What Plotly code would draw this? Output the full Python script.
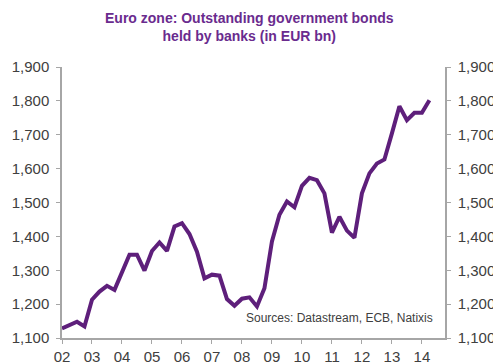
import plotly.graph_objects as go

quarters = [2002 + 0.25 * i for i in range(50)]
bonds = [1128, 1138, 1148, 1134, 1213, 1237, 1254, 1242, 1297, 1346,
         1346, 1299, 1357, 1382, 1357, 1429, 1439, 1407, 1355, 1276,
         1287, 1284, 1215, 1195, 1216, 1220, 1193, 1247, 1385, 1464,
         1503, 1486, 1549, 1573, 1566, 1527, 1411, 1458, 1417, 1396,
         1527, 1586, 1615, 1627, 1704, 1784, 1743, 1765, 1765, 1802]
year_ticks = list(range(2002, 2015))
year_labels = ["%02d" % (y - 2000) for y in year_ticks]
y_ticks = list(range(1100, 2000, 100))

purple = "#5E1F7B"
axis_col = "#A6A6A6"
text_col = "#404040"
font_fam = "Liberation Sans, Arial"

fig = go.Figure()
fig.add_trace(go.Scatter(x=quarters, y=bonds, mode="lines",
                         line=dict(color=purple, width=4), showlegend=False))
fig.add_trace(go.Scatter(x=quarters, y=bonds, mode="lines", yaxis="y2",
                         line=dict(color="rgba(0,0,0,0)", width=0),
                         showlegend=False, hoverinfo="skip"))

yax = dict(range=[1100, 1900], tickvals=y_ticks, tickformat=",d",
           showgrid=False, zeroline=False, showline=True, linecolor=axis_col,
           linewidth=1.5, ticks="outside", ticklen=4, tickcolor=axis_col,
           automargin=False, ticklabelstandoff=4,
           tickfont=dict(family=font_fam, size=15, color=text_col))

# page body has an 8px margin, so the figure is sized/offset to compensate
fig.update_layout(
    width=493, height=356,
    margin=dict(l=54, r=56, t=59, b=26),
    plot_bgcolor="white", paper_bgcolor="white",
    xaxis=dict(range=[2002, 2014.77], tickvals=year_ticks, ticktext=year_labels,
               showgrid=False, zeroline=False, showline=True, linecolor=axis_col,
               linewidth=1.5, ticks="outside", ticklen=4, tickcolor=axis_col,
               automargin=False,
               tickfont=dict(family=font_fam, size=15, color=text_col)),
    yaxis=dict(**yax, side="left"),
    yaxis2=dict(**yax, side="right", overlaying="y"),
    annotations=[
        dict(text="<b>Euro zone: Outstanding government bonds<br>held by banks (in EUR bn)</b>",
             xref="paper", yref="paper", x=0.49, y=1.1476, xanchor="center", yanchor="middle",
             showarrow=False, align="center",
             font=dict(family=font_fam, size=14, color="#6A2B8E")),
        dict(text="Sources: Datastream, ECB, Natixis", xref="paper", yref="paper",
             x=0.975, y=0.075, xanchor="right", yanchor="middle", showarrow=False,
             font=dict(family=font_fam, size=12, color=text_col))],
)

fig.write_html("out.html")
